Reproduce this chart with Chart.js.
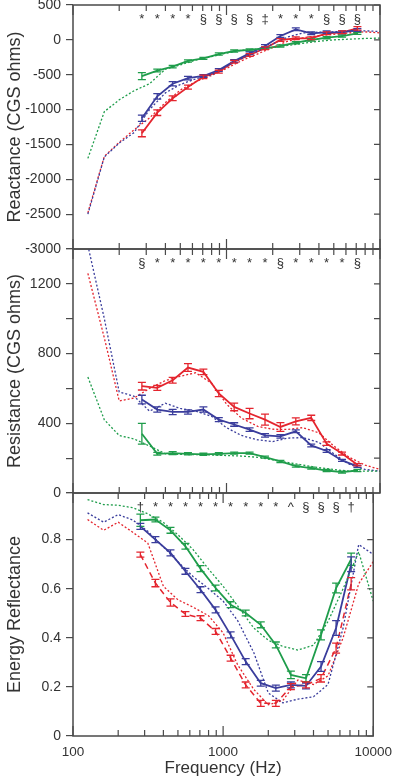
<!DOCTYPE html>
<html>
<head>
<meta charset="utf-8">
<script src="https://cdn.jsdelivr.net/npm/chart.js@4.4.0/dist/chart.umd.min.js"></script>
<style>
  body { margin: 0; background: #fff; }
  #wrap { position: relative; width: 400px; height: 782px; overflow: hidden; }
  canvas { position: absolute; left: 0; }
</style>
</head>
<body>
<div id="wrap">
  <canvas id="reactance" width="400" height="279" style="top:-15px"></canvas>
  <canvas id="resistance" width="400" height="274" style="top:234px"></canvas>
  <canvas id="reflectance" width="400" height="304" style="top:478px"></canvas>
</div>
<script>
// frequencies of the measured means (1/3 octave steps)
const freqs = [281, 354, 446, 561, 707, 891, 1122, 1414, 1782, 2245, 2828, 3564, 4490, 5657, 7127];
// frequencies of the dotted comparison curves
const refFreqs = [125, 160, 200, 250, 315, 400, 500, 630, 800, 1000, 1250, 1600, 2000, 2500, 3150, 4000, 5000, 6300, 8000, 10000];

// significance marks above each panel
const reactanceMarks = ['*', '*', '*', '*', '§', '§', '§', '§', '‡', '*', '*', '*', '§', '§', '§'];
const resistanceMarks = ['§', '*', '*', '*', '*', '*', '*', '*', '*', '§', '*', '*', '*', '*', '§'];
const reflectanceMarks = ['†', '*', '*', '*', '*', '*', '*', '*', '*', '*', '^', '§', '§', '§', '†'];

// Reactance (CGS ohms)
const reactGreen = [-520, -440, -385, -303, -265, -203, -160, -145, -121, -88, -41, -2, 31, 55, 94];
const reactGreenErr = [50, 20, 18, 15, 15, 15, 15, 15, 15, 15, 15, 15, 15, 15, 15];
const reactBlue = [-1125, -810, -630, -550, -518, -432, -303, -193, -88, 55, 151, 94, 108, 108, 141];
const reactBlueErr = [45, 40, 30, 25, 20, 20, 20, 20, 20, 20, 20, 20, 20, 20, 20];
const reactRed = [-1340, -1045, -838, -678, -530, -456, -313, -217, -121, -2, 22, 22, 94, 108, 165];
const reactRedErr = [50, 40, 35, 30, 25, 20, 20, 20, 20, 20, 20, 20, 20, 20, 25];
const reactGreenRef = [-1700, -1030, -860, -730, -630, -420, -360, -290, -240, -190, -150, -130, -110, -80, -50, -20, 0, 10, 20, 25];
const reactBlueRef = [-2500, -1680, -1480, -1330, -1000, -760, -640, -560, -500, -380, -270, -160, -60, 40, 100, 110, 115, 125, 130, 120];
const reactRedRef = [-2480, -1670, -1470, -1290, -1120, -900, -720, -600, -510, -410, -300, -200, -110, -20, 30, 60, 80, 100, 115, 100];

// Resistance (CGS ohms)
const resRed = [613, 603, 647, 720, 695, 571, 494, 456, 421, 379, 411, 431, 283, 226, 162];
const resRedErr = [22, 14, 16, 22, 16, 18, 22, 30, 32, 25, 20, 15, 10, 8, 6];
const resBlue = [536, 479, 465, 465, 479, 421, 393, 364, 331, 325, 354, 273, 241, 187, 153];
const resBlueErr = [25, 15, 15, 12, 15, 12, 10, 10, 10, 10, 8, 8, 8, 6, 6];
const resGreen = [340, 225, 229, 225, 222, 225, 229, 229, 206, 181, 154, 143, 129, 120, 129];
const resGreenErr = [60, 8, 8, 6, 6, 6, 6, 6, 6, 6, 6, 6, 6, 6, 6];
const resGreenRef = [665, 420, 330, 310, 270, 225, 222, 220, 218, 215, 212, 205, 190, 175, 160, 145, 135, 125, 125, 125];
const resBlueRef = [1420, 1000, 580, 555, 470, 515, 485, 470, 440, 375, 330, 305, 295, 315, 318, 290, 225, 165, 135, 125];
const resRedRef = [1260, 890, 528, 545, 600, 645, 670, 690, 630, 510, 430, 382, 366, 365, 375, 345, 270, 205, 160, 135];

// Energy reflectance
const reflGreen = [0.879, 0.882, 0.838, 0.773, 0.682, 0.603, 0.535, 0.501, 0.453, 0.371, 0.249, 0.235, 0.412, 0.603, 0.72];
const reflGreenErr = [0.025, 0.01, 0.012, 0.012, 0.012, 0.012, 0.012, 0.012, 0.012, 0.012, 0.015, 0.015, 0.02, 0.02, 0.025];
const reflBlue = [0.854, 0.800, 0.746, 0.671, 0.596, 0.514, 0.412, 0.303, 0.215, 0.195, 0.208, 0.204, 0.283, 0.44, 0.70];
const reflBlueErr = [0.012, 0.012, 0.012, 0.012, 0.012, 0.012, 0.012, 0.012, 0.012, 0.012, 0.012, 0.012, 0.02, 0.03, 0.03];
const reflRed = [0.739, 0.623, 0.544, 0.497, 0.480, 0.426, 0.317, 0.208, 0.133, 0.133, 0.201, 0.208, 0.235, 0.358, 0.62];
const reflRedErr = [0.01, 0.015, 0.015, 0.01, 0.01, 0.012, 0.012, 0.012, 0.012, 0.012, 0.012, 0.012, 0.015, 0.02, 0.025];
const reflGreenRef = [0.963, 0.943, 0.94, 0.93, 0.905, 0.87, 0.82, 0.76, 0.68, 0.61, 0.53, 0.44, 0.39, 0.365, 0.35, 0.37, 0.467, 0.60, 0.75, 0.55];
const reflBlueRef = [0.909, 0.871, 0.902, 0.88, 0.834, 0.77, 0.71, 0.65, 0.60, 0.55, 0.47, 0.34, 0.175, 0.135, 0.15, 0.16, 0.21, 0.44, 0.78, 0.74];
const reflRedRef = [0.882, 0.838, 0.871, 0.83, 0.786, 0.61, 0.555, 0.525, 0.49, 0.42, 0.29, 0.19, 0.127, 0.145, 0.228, 0.21, 0.245, 0.40, 0.62, 0.71];

const decades = [100, 1000, 10000];
const minorTicks = [200, 300, 400, 500, 600, 700, 800, 900, 2000, 3000, 4000, 5000, 6000, 7000, 8000, 9000];

const RED = '#e4252e';
const BLUE = '#3a3d9c';
const GREEN = '#1f9d4b';
const INK = '#333';
const AXIS = '#4a4a4a';

Chart.defaults.font.family = "'Liberation Sans', Arial, sans-serif";
Chart.defaults.color = INK;

function line(fs, vals, color, opts) {
    return {
        data: fs.map((f, i) => ({ x: f, y: vals[i] })),
        borderColor: color,
        borderWidth: opts.width || 1.8,
        borderDash: opts.dash || [],
        errors: opts.errors,
        pointRadius: 0,
        tension: 0,
        fill: false
    };
}

// vertical error bars with caps, read through the y scale
const errorBars = {
    id: 'errorBars',
    afterDatasetsDraw(chart) {
        const { ctx, chartArea: a } = chart;
        const ys = chart.scales.y;
        ctx.save();
        ctx.beginPath();
        ctx.rect(a.left, a.top, a.right - a.left, a.bottom - a.top);
        ctx.clip();
        chart.data.datasets.forEach((ds, i) => {
            if (!ds.errors) return;
            const meta = chart.getDatasetMeta(i);
            ctx.strokeStyle = ds.borderColor;
            ctx.lineWidth = 1.3;
            ctx.setLineDash([]);
            meta.data.forEach((pt, j) => {
                const v = ds.data[j].y, e = ds.errors[j];
                const y1 = ys.getPixelForValue(v + e);
                const y2 = ys.getPixelForValue(v - e);
                ctx.beginPath();
                ctx.moveTo(pt.x, y1); ctx.lineTo(pt.x, y2);
                ctx.moveTo(pt.x - 4, y1); ctx.lineTo(pt.x + 4, y1);
                ctx.moveTo(pt.x - 4, y2); ctx.lineTo(pt.x + 4, y2);
                ctx.stroke();
            });
        });
        ctx.restore();
    }
};

// box around the plot with inward ticks, plus the marks row
const frame = {
    id: 'frame',
    afterDraw(chart, args, opts) {
        const { ctx, chartArea: a, scales } = chart;
        ctx.save();
        ctx.strokeStyle = AXIS;
        ctx.lineWidth = 1.5;
        ctx.strokeRect(a.left, a.top, a.right - a.left, a.bottom - a.top);
        ctx.lineWidth = 1.2;
        ctx.beginPath();
        decades.concat(minorTicks).forEach(f => {
            const x = scales.x.getPixelForValue(f);
            const len = decades.includes(f) ? 10 : 6;
            ctx.moveTo(x, a.top); ctx.lineTo(x, a.top + len);
            ctx.moveTo(x, a.bottom); ctx.lineTo(x, a.bottom - len);
        });
        scales.y.ticks.forEach(t => {
            const y = scales.y.getPixelForValue(t.value);
            ctx.moveTo(a.right, y); ctx.lineTo(a.right - 6, y);
        });
        ctx.stroke();

        if (opts.marks) {
            ctx.fillStyle = INK;
            ctx.font = "13px 'Liberation Sans', Arial, sans-serif";
            ctx.textAlign = 'center';
            ctx.textBaseline = 'middle';
            opts.marks.forEach((m, i) => {
                ctx.fillText(m, scales.x.getPixelForValue(freqs[i]), a.top + 14);
            });
        }
        ctx.restore();
    }
};

function makePanel(id, cfg) {
    const xAxis = {
        type: 'logarithmic', min: 100, max: 10000,
        display: cfg.showX ? true : false
    };
    if (cfg.showX) {
        Object.assign(xAxis, {
            afterBuildTicks: s => { s.ticks = decades.map(v => ({ value: v })); },
            afterFit: s => { s.height = 46; },
            grid: { display: false, drawTicks: false },
            border: { display: false },
            ticks: { color: INK, font: { size: 13.5 }, padding: 8, maxRotation: 0, autoSkip: false, callback: v => String(v) },
            title: { display: true, text: 'Frequency (Hz)', color: INK, font: { size: 17 }, padding: { top: 0, bottom: 3 } }
        });
    }
    return new Chart(document.getElementById(id), {
        type: 'line',
        data: { datasets: cfg.datasets },
        options: {
            responsive: false,
            animation: false,
            layout: { padding: cfg.padding },
            plugins: {
                legend: { display: false },
                tooltip: { enabled: false },
                frame: { marks: cfg.marks }
            },
            scales: {
                x: xAxis,
                y: {
                    min: cfg.min, max: cfg.max,
                    afterFit: s => { s.width = 73; },
                    ticks: { stepSize: cfg.step, color: INK, font: { size: 14 }, padding: 5, callback: cfg.label },
                    grid: { drawOnChartArea: false, tickLength: 7, color: AXIS, lineWidth: 1.2 },
                    border: { display: false },
                    title: { display: true, text: cfg.title, color: INK, font: { size: 18 }, padding: { top: 4, bottom: 0 } }
                }
            }
        },
        plugins: [errorBars, frame]
    });
}

const dot = [2, 2];

makePanel('reactance', {
    title: 'Reactance (CGS ohms)',
    min: -3000, max: 500, step: 500,
    label: v => String(v),
    padding: { top: 20, bottom: 15, left: 0, right: 20 },
    marks: reactanceMarks,
    datasets: [
        line(refFreqs, reactGreenRef, GREEN, { dash: dot, width: 1.3 }),
        line(refFreqs, reactBlueRef, BLUE, { dash: dot, width: 1.3 }),
        line(refFreqs, reactRedRef, RED, { dash: dot, width: 1.3 }),
        line(freqs, reactGreen, GREEN, { errors: reactGreenErr }),
        line(freqs, reactBlue, BLUE, { errors: reactBlueErr }),
        line(freqs, reactRed, RED, { errors: reactRedErr })
    ]
});

makePanel('resistance', {
    title: 'Resistance (CGS ohms)',
    min: 0, max: 1400, step: 200,
    label: v => (v % 400 === 0 && v < 1400) ? String(v) : '',
    padding: { top: 15, bottom: 15, left: 0, right: 20 },
    marks: resistanceMarks,
    datasets: [
        line(refFreqs, resGreenRef, GREEN, { dash: dot, width: 1.3 }),
        line(refFreqs, resBlueRef, BLUE, { dash: dot, width: 1.3 }),
        line(refFreqs, resRedRef, RED, { dash: dot, width: 1.3 }),
        line(freqs, resGreen, GREEN, { errors: resGreenErr }),
        line(freqs, resBlue, BLUE, { errors: resBlueErr }),
        line(freqs, resRed, RED, { errors: resRedErr })
    ]
});

makePanel('reflectance', {
    title: 'Energy Reflectance',
    min: 0, max: 0.99, step: 0.2,
    label: v => v > 0.9 ? '' : (v === 0 ? '0' : v.toFixed(1)),
    padding: { top: 15, bottom: 0, left: 0, right: 20 },
    marks: reflectanceMarks,
    showX: true,
    datasets: [
        line(refFreqs, reflGreenRef, GREEN, { dash: dot, width: 1.3 }),
        line(refFreqs, reflBlueRef, BLUE, { dash: dot, width: 1.3 }),
        line(refFreqs, reflRedRef, RED, { dash: dot, width: 1.3 }),
        line(freqs, reflGreen, GREEN, { errors: reflGreenErr }),
        line(freqs, reflBlue, BLUE, { errors: reflBlueErr }),
        line(freqs, reflRed, RED, { dash: [6, 4], width: 1.5, errors: reflRedErr })
    ]
});
</script>
</body>
</html>
